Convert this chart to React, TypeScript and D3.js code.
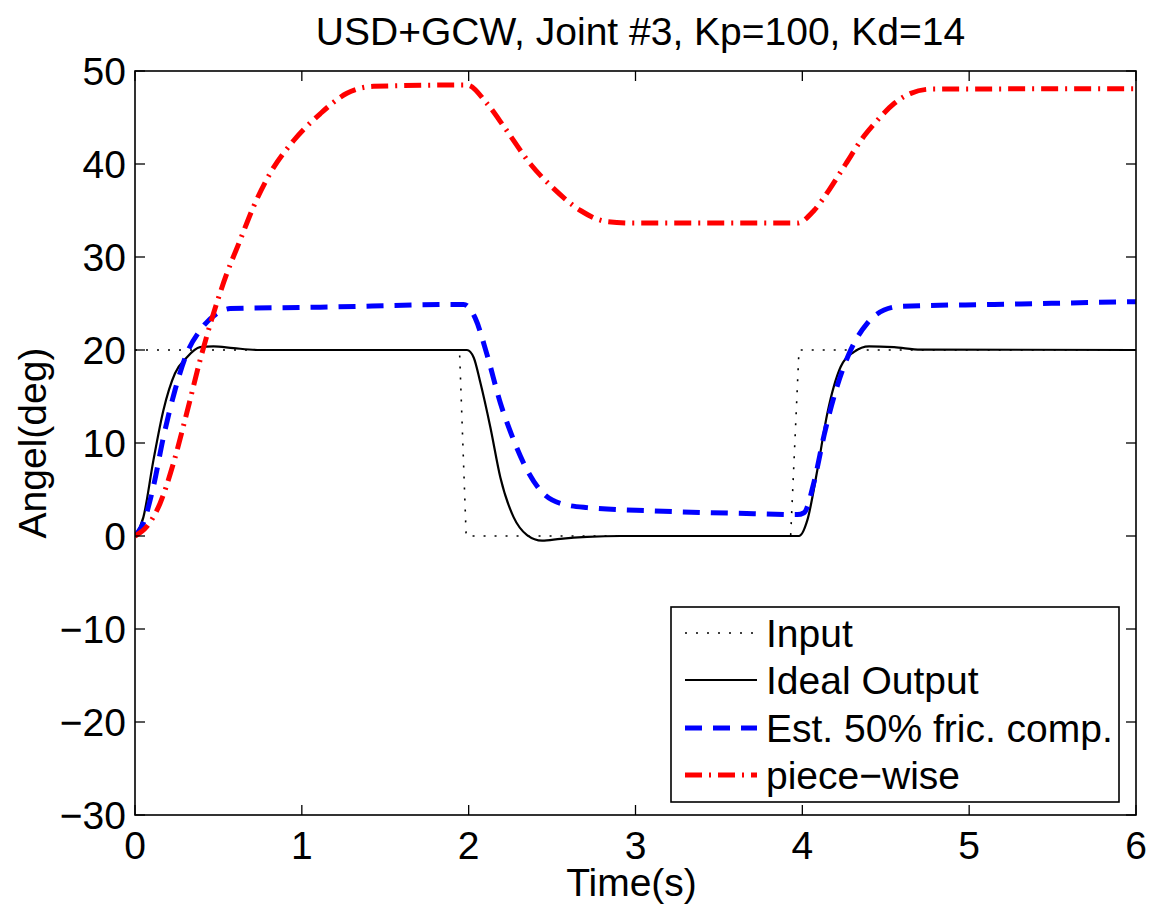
import React from "react";
import * as d3 from "d3";

const inputT = [0, 1.945, 1.985, 3.93, 3.98, 6];
const inputV = [20, 20, 0, 0, 20, 20];

const idealT = [0, 0.05, 0.11, 0.17, 0.24, 0.31, 0.39, 0.47, 0.59, 0.75, 1.0, 1.99, 2.03, 2.07, 2.13, 2.19, 2.27, 2.35, 2.44, 2.55, 2.71, 2.91, 3.98, 4.03, 4.09, 4.15, 4.23, 4.31, 4.4, 4.55, 4.71, 6];
const idealV = [0, 2.0, 8.1, 13.5, 17.5, 19.2, 20.3, 20.4, 20.2, 20.0, 20, 20, 19.2, 16.5, 11.7, 6.3, 2.0, 0.1, -0.5, -0.3, -0.1, 0, 0, 1.7, 7.1, 13.2, 18.2, 19.8, 20.4, 20.3, 20.05, 20];

const estT = [0, 0.05, 0.11, 0.17, 0.24, 0.31, 0.39, 0.49, 0.57, 1.11, 1.97, 2.04, 2.11, 2.19, 2.27, 2.35, 2.43, 2.55, 2.71, 3.11, 3.71, 3.97, 4.01, 4.07, 4.13, 4.2, 4.28, 4.39, 4.49, 4.59, 5.15, 6];
const estV = [0, 1.4, 5.3, 10.6, 15.7, 19.6, 22.1, 23.9, 24.45, 24.6, 24.9, 23.4, 19.5, 14.3, 10.3, 7.1, 4.9, 3.5, 3.05, 2.7, 2.4, 2.3, 2.5, 5.8, 10.8, 15.6, 19.6, 22.9, 24.3, 24.7, 24.9, 25.2];

const pwT = [0, 0.07, 0.15, 0.23, 0.31, 0.39, 0.47, 0.55, 0.63, 0.71, 0.81, 0.95, 1.11, 1.27, 1.43, 1.99, 2.11, 2.22, 2.37, 2.51, 2.67, 2.83, 2.99, 3.97, 4.07, 4.16, 4.26, 4.37, 4.45, 4.55, 4.65, 4.77, 6];
const pwV = [0, 1.0, 3.5, 7.8, 13.2, 18.9, 23.9, 28.2, 31.8, 35.4, 39.0, 42.5, 45.4, 47.6, 48.35, 48.5, 46.5, 43.8, 40.0, 37.35, 35.0, 33.8, 33.65, 33.65, 35.0, 37.2, 40.0, 43.0, 44.7, 46.5, 47.6, 48.05, 48.1];

const xTicks = [0, 1, 2, 3, 4, 5, 6];
const yTicks = [50, 40, 30, 20, 10, 0, -10, -20, -30];
const legendLabels = ["Input", "Ideal Output", "Est. 50% fric. comp.", "piece\u2212wise"];

const W = 1149, H = 913;
const L = 135, R = 1136, T = 71, B = 815;
const FONT = "'Liberation Sans', Arial, Helvetica, sans-serif";
const FS = 39;

export default function App() {
  const x = d3.scaleLinear().domain([0, 6]).range([L, R]);
  const y = d3.scaleLinear().domain([-30, 50]).range([B, T]);

  const mk = (ts: number[], vs: number[], curve: any) =>
    d3.line<number>().x((_, i) => x(ts[i])).y((_, i) => y(vs[i])).curve(curve)(vs.map((_, i) => i)) || "";

  const styles = [
    { stroke: "#000", width: 1.6, dash: "2,9" },
    { stroke: "#000", width: 2.2, dash: "" },
    { stroke: "#0000ff", width: 5, dash: "17,11" },
    { stroke: "#ff0000", width: 5, dash: "17,7,2,7" },
  ];
  const paths = [
    mk(inputT, inputV, d3.curveLinear),
    mk(idealT, idealV, d3.curveMonotoneX),
    mk(estT, estV, d3.curveMonotoneX),
    mk(pwT, pwV, d3.curveMonotoneX),
  ];

  const lg = { x0: 671, y0: 607, x1: 1119, y1: 802, lx0: 685, lx1: 757, tx: 766, rows: [633, 680, 728, 775] };

  return (
    <svg width={W} height={H} style={{ position: "absolute", left: 0, top: 0, background: "#fff" }} fontFamily={FONT}>
      <rect x={0} y={0} width={W} height={H} fill="#fff" />
      <defs>
        <clipPath id="plot">
          <rect x={L} y={T} width={R - L} height={B - T} />
        </clipPath>
      </defs>
      <g clipPath="url(#plot)">
        {paths.map((d, i) => (
          <path key={i} d={d} fill="none" stroke={styles[i].stroke} strokeWidth={styles[i].width}
            strokeDasharray={styles[i].dash || undefined} strokeLinejoin="round" />
        ))}
      </g>
      {xTicks.map((t) => (
        <g key={"xt" + t}>
          <line x1={x(t)} x2={x(t)} y1={B} y2={B - 10} stroke="#000" strokeWidth={1.3} />
          <line x1={x(t)} x2={x(t)} y1={T} y2={T + 10} stroke="#000" strokeWidth={1.3} />
          <text x={x(t)} y={859} textAnchor="middle" fontSize={FS}>{String(t)}</text>
        </g>
      ))}
      {yTicks.map((v) => (
        <g key={"yt" + v}>
          <line x1={L} x2={L + 10} y1={y(v)} y2={y(v)} stroke="#000" strokeWidth={1.3} />
          <line x1={R} x2={R - 10} y1={y(v)} y2={y(v)} stroke="#000" strokeWidth={1.3} />
          <text x={126} y={y(v)} dy="0.36em" textAnchor="end" fontSize={FS}>{v < 0 ? "\u2212" + Math.abs(v) : String(v)}</text>
        </g>
      ))}
      <rect x={L} y={T} width={R - L} height={B - T} fill="none" stroke="#000" strokeWidth={1.6} />
      <text x={(L + R) / 2 + 5} y={45} textAnchor="middle" fontSize={FS}>USD+GCW, Joint #3, Kp=100, Kd=14</text>
      <text x={(L + R) / 2 - 4} y={896} textAnchor="middle" fontSize={FS}>Time(s)</text>
      <text transform={`translate(46,${(T + B) / 2}) rotate(-90)`} textAnchor="middle" fontSize={FS}>Angel(deg)</text>
      <rect x={lg.x0} y={lg.y0} width={lg.x1 - lg.x0} height={lg.y1 - lg.y0} fill="#fff" stroke="#000" strokeWidth={1.6} />
      {legendLabels.map((lab, i) => (
        <g key={lab}>
          <line x1={lg.lx0} x2={lg.lx1} y1={lg.rows[i]} y2={lg.rows[i]} stroke={styles[i].stroke}
            strokeWidth={styles[i].width} strokeDasharray={styles[i].dash || undefined} />
          <text x={lg.tx} y={lg.rows[i]} dy="0.36em" fontSize={FS}>{lab}</text>
        </g>
      ))}
    </svg>
  );
}
